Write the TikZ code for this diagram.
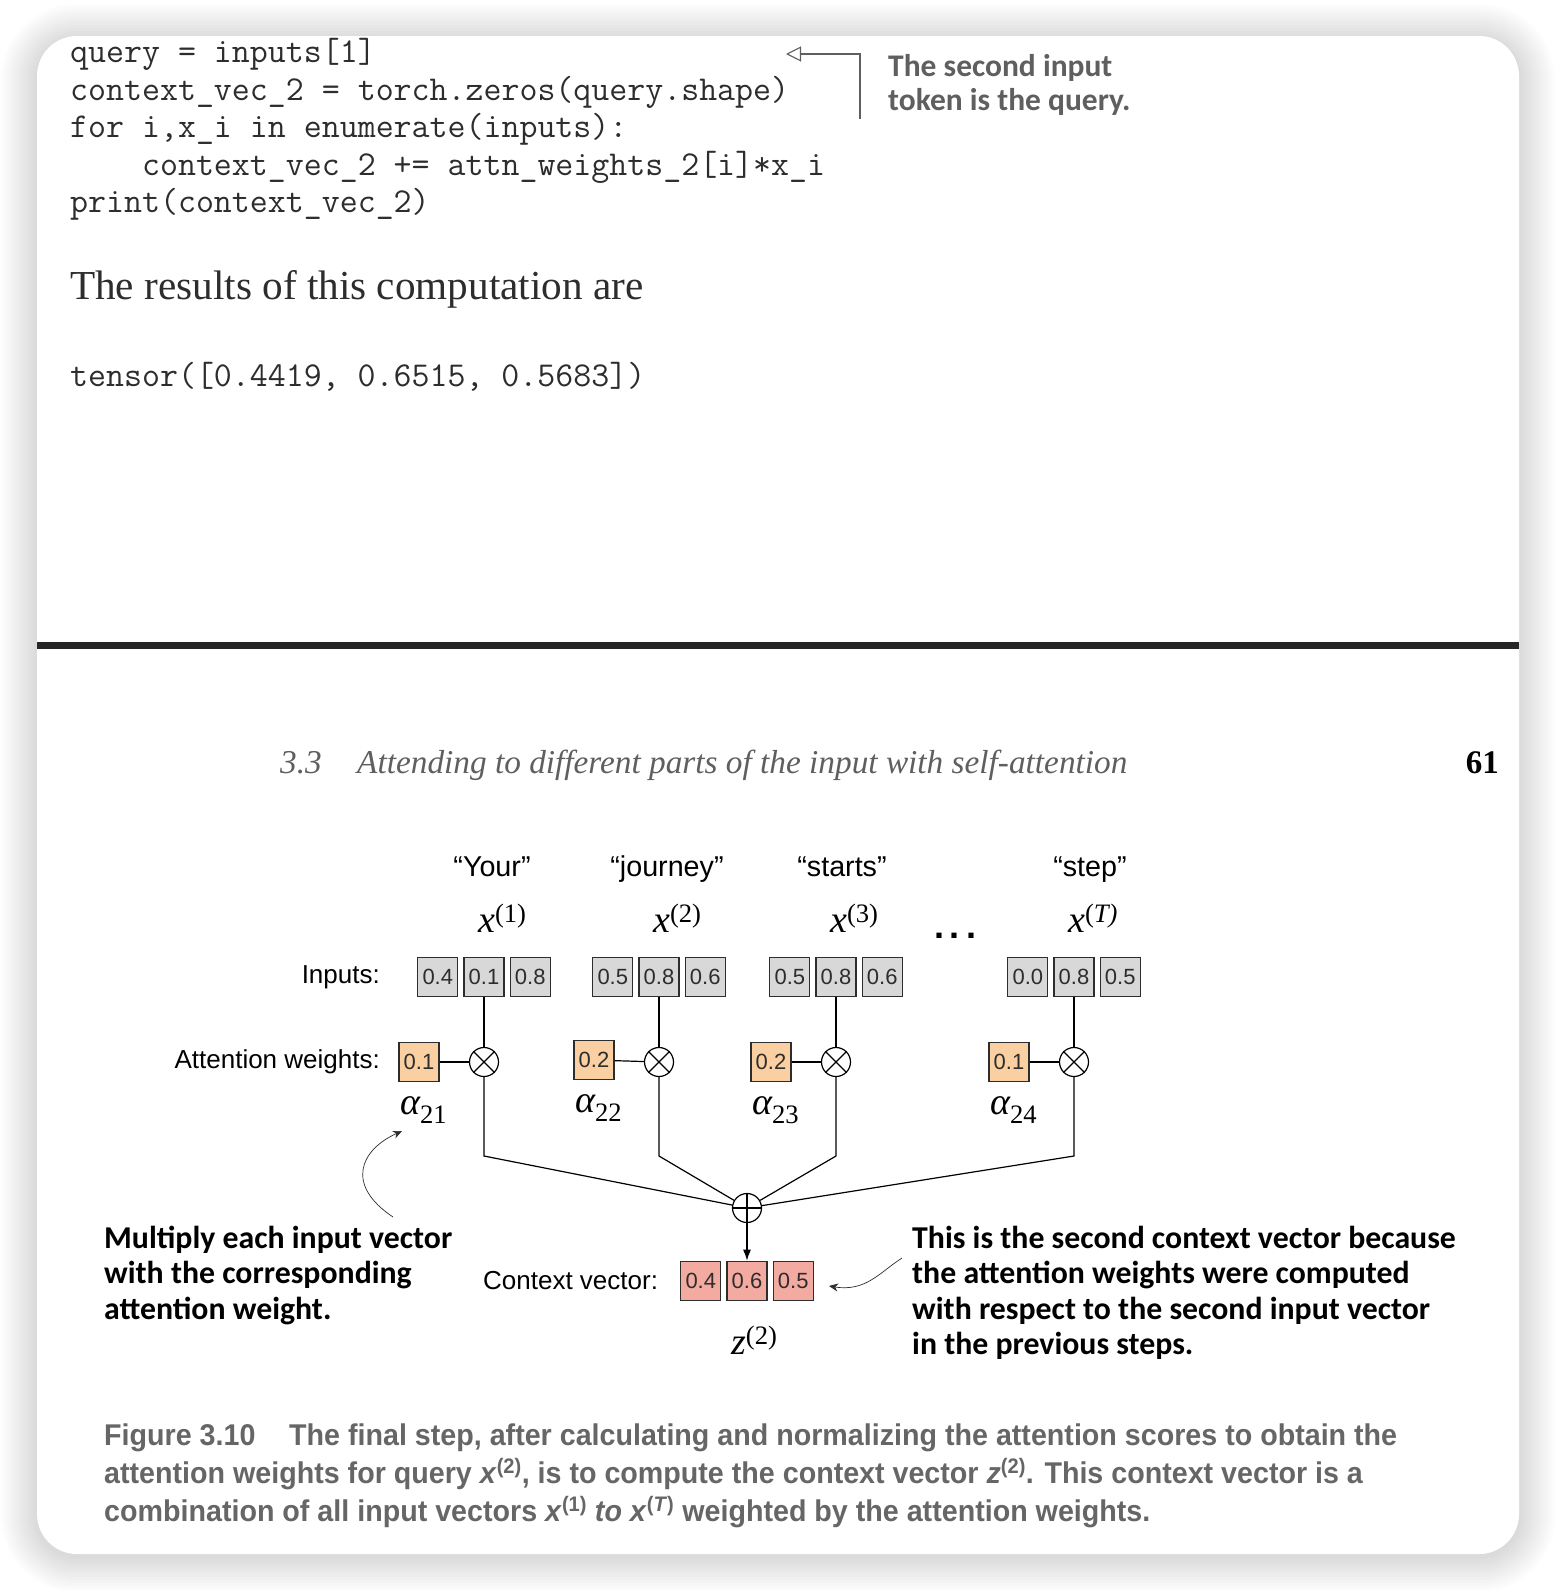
\documentclass[tikz,border=0pt]{standalone}
\usepackage{fontspec}
\setmainfont{Liberation Serif}
\setsansfont{Liberation Sans}
\newfontfamily\calloutfont{Carlito}
\newfontfamily\capfont[FakeStretch=0.955]{Liberation Sans}
\usetikzlibrary{positioning,arrows.meta}

\definecolor{ingray}{RGB}{216,216,216}
\definecolor{wpeach}{RGB}{250,207,161}
\definecolor{csalmon}{RGB}{243,171,161}
\definecolor{inkgray}{RGB}{45,45,45}
\definecolor{notegray}{RGB}{95,95,95}
\definecolor{capgray}{RGB}{102,102,102}
\definecolor{rulegray}{RGB}{38,38,38}

\begin{document}
\begin{tikzpicture}[
  x=1pt, y=-1pt,
  inbox/.style={rectangle, draw=inkgray, fill=ingray, line width=1.2pt, minimum width=40pt, minimum height=39.5pt, inner sep=0pt, font=\sffamily\fontsize{22}{22}\selectfont, text=inkgray},
  weightbox/.style={inbox, fill=wpeach},
  ctxbox/.style={inbox, fill=csalmon},
  opnode/.style={circle, draw=black, fill=white, line width=1.2pt, minimum size=29pt, inner sep=0pt},
  codeline/.style={anchor=base west, inner sep=0pt, text=inkgray, font=\ttfamily\fontsize{34.9}{34.9}\selectfont},
  label/.style={anchor=east, inner sep=0pt, font=\sffamily\fontsize{26}{26}\selectfont},
  word/.style={anchor=base, inner sep=0pt, font=\sffamily\fontsize{28.7}{28.7}\selectfont},
  mathlbl/.style={anchor=base west, inner sep=0pt, font=\fontsize{38}{38}\selectfont},
  callout/.style={anchor=base west, inner sep=0pt, font=\calloutfont\bfseries\fontsize{31.8}{31.8}\selectfont},
  note/.style={callout, text=notegray, font=\calloutfont\bfseries\fontsize{31.5}{31.5}\selectfont},
  capline/.style={anchor=base west, inner sep=0pt, text=capgray, font=\capfont\bfseries\fontsize{30}{30}\selectfont},
  wire/.style={line width=1.2pt},
  arrow/.style={-{Latex[length=11pt, width=8pt]}, line width=1.2pt},
  thinarrow/.style={-{Stealth[length=9pt, width=8pt]}, line width=0.7pt, inkgray}
]
\useasboundingbox (0,0) rectangle (1554,1590);

% page shadow and card
\fill[white] (0,0) rectangle (1554,1590);
\foreach \s in {1,...,12} {
  \fill[black, opacity=0.013, rounded corners=40+\s*3] (37-\s*3,40-\s*3) rectangle (1519+\s*3,1556+\s*3);
}
\fill[white, rounded corners=40] (37,36) rectangle (1519,1554);

% --- TOP PART: CODE LISTING ---

\foreach \k/\txt in {0/{query = inputs[1]},
                     1/{context\_vec\_2 = torch.zeros(query.shape)},
                     2/{for i,x\_i in enumerate(inputs):},
                     3/{\phantom{xxxx}context\_vec\_2 += attn\_weights\_2[i]*x\_i},
                     4/{print(context\_vec\_2)}} {
  \node[codeline] (code\k) at (70,62.5+37.5*\k) {\txt};
}

% note on the query line
\coordinate (qtip) at (786,54);
\coordinate (qbend) at (860,54);
\coordinate (qfoot) at (860,119);
\draw[-{Triangle[open, length=15pt, width=15pt]}, line width=1.1pt, notegray] (qfoot) -- (qbend) -- (qtip);
\node[note] (note1) at (888,76) {The second input};
\node[note] (note2) at (888,110) {token is the query.};

\node[anchor=base west, inner sep=0pt, text=inkgray, font=\fontsize{41.2}{41.2}\selectfont] (results) at (70,299) {The results of this computation are};
\node[codeline] (tensor) at (70,386) {tensor([0.4419, 0.6515, 0.5683])};

% page break
\draw[line width=7pt, rulegray] (37,645.5) -- (1519,645.5);

% running head
\node[anchor=base west, inner sep=0pt, text=notegray, font=\itshape\fontsize{33.3}{33.3}\selectfont] (secno) at (280,773) {3.3};
\node[anchor=base west, inner sep=0pt, text=notegray, font=\itshape\fontsize{33.3}{33.3}\selectfont] (sectitle) at (357,773) {Attending to different parts of the input with self-attention};
\node[anchor=base east, inner sep=0pt, font=\bfseries\fontsize{33}{33}\selectfont] (pageno) at (1499,773) {61};

% --- DIAGRAM ---

\node[label] (inlbl) at (380,977) {Inputs:};
\node[label] (wlbl) at (380,1062) {Attention weights:};

% sum node and context vector
\node[opnode] (plus) at (747,1208) {};
\draw[wire] (plus.north) -- (plus.south) (plus.west) -- (plus.east);

\node[ctxbox] (c2) at (747,1281) {0.6};
\node[ctxbox, left=5pt of c2] (c1) {0.4};
\node[ctxbox, right=5pt of c2] (c3) {0.5};
\node[label, left=22pt of c1] (clbl) {Context vector:};
\node[mathlbl] (zlbl) at (731,1354) {\itshape z\textsuperscript{\upshape(2)}};
\draw[arrow] (plus) -- (c2);

% one column per input token
\foreach \g/\cx/\wy/\sup/\a/\b/\c/\w in {
    1/484/1062/1/0.4/0.1/0.8/0.1,
    2/659/1060/2/0.5/0.8/0.6/0.2,
    3/836/1062/3/0.5/0.8/0.6/0.2,
    4/1074/1062/\itshape T/0.0/0.8/0.5/0.1} {
  \node[inbox] (in\g-2) at (\cx,977) {\b};
  \node[inbox, left=5pt of in\g-2] (in\g-1) {\a};
  \node[inbox, right=5pt of in\g-2] (in\g-3) {\c};
  \node[mathlbl] (x\g) at (\cx-6,932) {\itshape x\textsuperscript{\upshape(\sup)}};
  \node[opnode] (m\g) at (\cx,1062) {};
  \draw[wire] (m\g.north west) -- (m\g.south east) (m\g.north east) -- (m\g.south west);
  \node[weightbox] (w\g) at (\cx-65,\wy) {\w};
  \node[mathlbl] (al\g) at (\cx-84,\wy+52) {\itshape α\textsubscript{\upshape 2\g}};
  \draw[wire] (w\g) -- (m\g);
  \draw[wire] (in\g-2) -- (m\g);
  \coordinate (j\g) at (\cx,1156);
  \draw[wire] (m\g) -- (j\g) -- (plus);
}
\node[word] (wd1) at (492,876) {“Your”};
\node[word] (wd2) at (667,876) {“journey”};
\node[word] (wd3) at (842,876) {“starts”};
\node[word] (wd4) at (1090,876) {“step”};
\node[anchor=base, inner sep=0pt, font=\sffamily\bfseries\fontsize{36}{36}\selectfont] (dots) at (955,938) {.\,.\,.};

% callouts
\foreach \k/\txt in {0/{Multiply each input vector}, 1/{with the corresponding}, 2/{attention weight.}} {
  \node[callout] (lnote\k) at (104,1248+35.5*\k) {\txt};
}
\foreach \k/\txt in {0/{This is the second context vector because}, 1/{the attention weights were computed},
                     2/{with respect to the second input vector}, 3/{in the previous steps.}} {
  \node[callout] (rnote\k) at (912,1248+35.5*\k) {\txt};
}
\coordinate (ltail) at (393,1217);
\coordinate (ltip) at (402,1131);
\draw[thinarrow] (ltail) .. controls (345,1185) and (360,1150) .. (ltip);
\coordinate (rtail) at (902,1258);
\coordinate (rtip) at (829,1286);
\draw[thinarrow] (rtail) .. controls (880,1272) and (866,1292) .. (rtip);

% caption
\node[capline] (figno) at (104,1445) {Figure 3.10};
\node[capline] (cap1) at (289,1445) {The final step, after calculating and normalizing the attention scores to obtain the};
\node[capline] (cap2) at (104,1483) {attention weights for query \textit{x}\textsuperscript{(2)}, is to compute the context vector \textit{z}\textsuperscript{(2)}. This context vector is a};
\node[capline] (cap3) at (104,1521) {combination of all input vectors \textit{x}\textsuperscript{(1)} \textit{to x}\textsuperscript{(\textit{T})} weighted by the attention weights.};

\end{tikzpicture}
\end{document}
